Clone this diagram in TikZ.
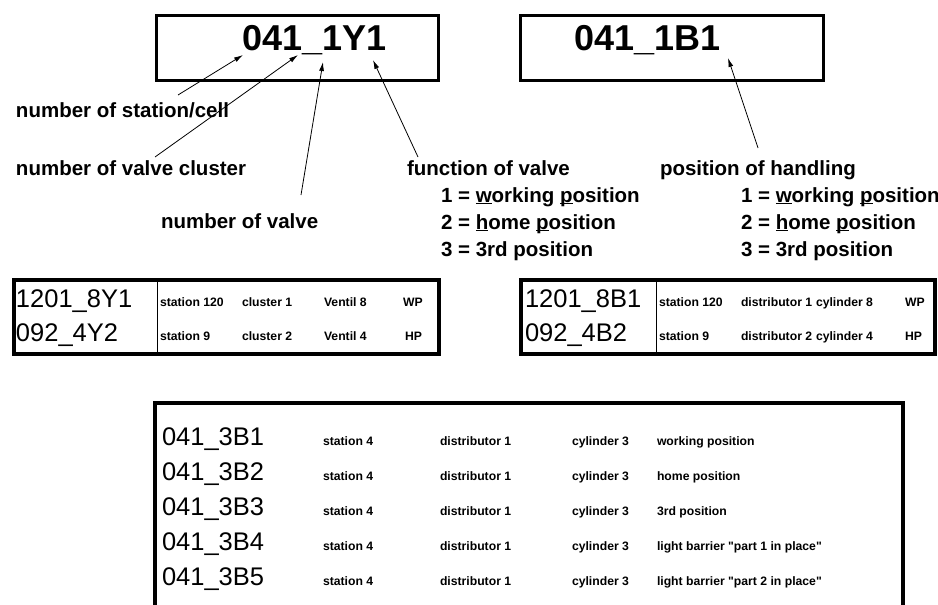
\documentclass[tikz,border=0pt]{standalone}
\usepackage{fontspec}
\setmainfont{Liberation Sans}
\usetikzlibrary{arrows.meta}
\newcommand\fsz[1]{\fontsize{#1}{#1}\selectfont}
\newcommand\ulet[1]{\underline{\smash{#1}}}
\newcommand\sq{\XeTeXglyph\XeTeXcharglyph"22\relax}
\begin{document}
\begin{tikzpicture}[x=1pt,y=-1pt,
  txt/.style={inner sep=0pt, outer sep=0pt, anchor=base west},
  titletxt/.style={txt, font=\fsz{36}\bfseries},
  lab/.style={txt, font=\fsz{20.5}\bfseries},
  codetxt/.style={txt, font=\fsz{25.5}},
  small/.style={txt, font=\fsz{12.2}\bfseries},
  box/.style={draw, line width=3pt, inner sep=0pt, anchor=north west},
  tbox/.style={draw, line width=4pt, inner sep=0pt, anchor=north west},
  divider/.style={line width=1pt},
  arr/.style={-{Latex[length=9pt,width=5pt]}, line width=0.8pt},
]
\useasboundingbox (0,0) rectangle (938,605);

% top boxes
\node[box, minimum width=282pt, minimum height=65pt] (boxY) at (155,14) {};
\node[box, minimum width=303pt, minimum height=65pt] (boxB) at (519,14) {};
\node[titletxt] (tY) at (242,50) {041\_1Y1};
\node[titletxt] (tB) at (574,50) {041\_1B1};

% labels
\node[lab] (l1) at (16,117) {number of station/cell};
\node[lab] (l2) at (16,175) {number of valve cluster};
\node[lab] (l3) at (161,228) {number of valve};
\node[lab] (l4) at (407,175) {function of valve};
\node[lab] (l4a) at (441,202) {1 = \ulet{w}orking \ulet{p}osition};
\node[lab] (l4b) at (441,229) {2 = \ulet{h}ome \ulet{p}osition};
\node[lab] (l4c) at (441,256) {3 = 3rd position};
\node[lab] (l5) at (660,175) {position of handling};
\node[lab] (l5a) at (741,202) {1 = \ulet{w}orking \ulet{p}osition};
\node[lab] (l5b) at (741,229) {2 = \ulet{h}ome \ulet{p}osition};
\node[lab] (l5c) at (741,256) {3 = 3rd position};

% arrows
\coordinate (s1) at (178,95);  \coordinate (e1) at (243,55);
\coordinate (s2) at (155,157); \coordinate (e2) at (298,55);
\coordinate (s3) at (301,195); \coordinate (e3) at (323,62);
\coordinate (s4) at (418,157); \coordinate (e4) at (373,60);
\coordinate (s5) at (758,148); \coordinate (e5) at (728,58);
\draw[arr] (s1) -- (e1);
\draw[arr] (s2) -- (e2);
\draw[arr] (s3) -- (e3);
\draw[arr] (s4) -- (e4);
\draw[arr] (s5) -- (e5);

% middle left table
\node[tbox, minimum width=425pt, minimum height=74pt] (mY) at (12,278) {};
\draw[divider] (157,278) -- (157,352);
\node[codetxt] (cY1) at (16,307) {1201\_8Y1};
\node[codetxt] (cY2) at (16,341) {092\_4Y2};
\node[small] at (160,306) {station 120};
\node[small] at (242,306) {cluster 1};
\node[small] at (324,306) {Ventil 8};
\node[small] at (403,306) {WP};
\node[small] at (160,340) {station 9};
\node[small] at (242,340) {cluster 2};
\node[small] at (324,340) {Ventil 4};
\node[small] at (405,340) {HP};

% middle right table
\node[tbox, minimum width=414pt, minimum height=74pt] (mB) at (519,278) {};
\draw[divider] (656,278) -- (656,352);
\node[codetxt] (cB1) at (525,307) {1201\_8B1};
\node[codetxt] (cB2) at (525,341) {092\_4B2};
\node[small] at (659,306) {station 120};
\node[small] at (741,306) {distributor 1};
\node[small] at (816,306) {cylinder 8};
\node[small] at (905,306) {WP};
\node[small] at (659,340) {station 9};
\node[small] at (741,340) {distributor 2};
\node[small] at (816,340) {cylinder 4};
\node[small] at (905,340) {HP};

% bottom table
\draw[line width=3.5pt] (155,607) -- (155,403) -- (903,403) -- (903,607);
\foreach \i/\d in {1/working position, 2/home position, 3/3rd position,
  4/light barrier \sq part 1 in place\sq, 5/light barrier \sq part 2 in place\sq}{
  \pgfmathsetmacro\yy{410+35*\i}
  \node[codetxt] (c3B\i) at (162,\yy) {041\_3B\i};
  \node[small] (st\i) at (323,\yy) {station 4};
  \node[small] (di\i) at (440,\yy) {distributor 1};
  \node[small] (cy\i) at (572,\yy) {cylinder 3};
  \node[small] (de\i) at (657,\yy) {\d};
}
\end{tikzpicture}
\end{document}
